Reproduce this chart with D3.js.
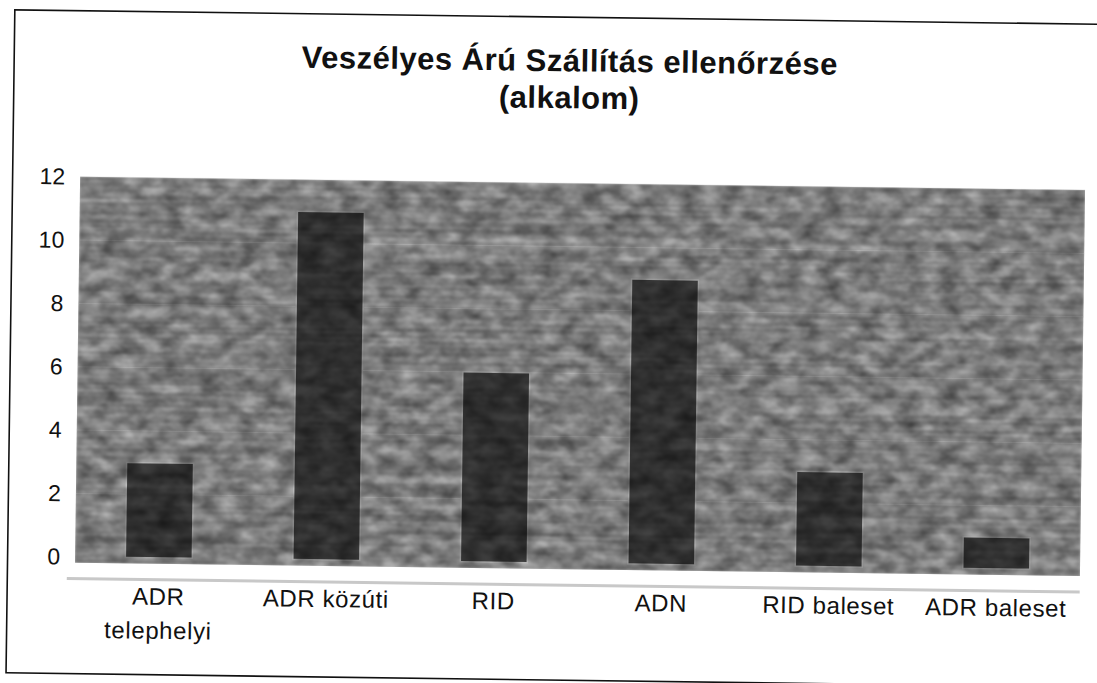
<!DOCTYPE html>
<html>
<head>
<meta charset="utf-8">
<script src="https://cdn.jsdelivr.net/npm/d3@7"></script>
<style>
  body { margin: 0; background: #fff; }
  text { font-family: "Liberation Sans", Arial, sans-serif; fill: #111; }
</style>
</head>
<body>
<div id="chart"></div>
<script>
// data
var categories = ["ADR telephelyi", "ADR közúti", "RID", "ADN", "RID baleset", "ADR baleset"];
var values = [3, 11, 6, 9, 3, 1];
var yTicks = [0, 2, 4, 6, 8, 10, 12];
var titleLines = ["Veszélyes Árú Szállítás ellenőrzése", "(alkalom)"];

var W = 1097, H = 683;
var margin = {top: 183, right: 5, bottom: 120, left: 78};

var svg = d3.select("#chart").append("svg")
    .attr("width", W)
    .attr("height", H);

var defs = svg.append("defs");
// scanner-ish mottled texture
var f = defs.append("filter").attr("id", "grain")
    .attr("x", 0).attr("y", 0).attr("width", 1).attr("height", 1);
f.append("feTurbulence")
    .attr("type", "fractalNoise")
    .attr("baseFrequency", "0.05 0.08")
    .attr("numOctaves", 3)
    .attr("seed", 7)
    .attr("result", "t");
f.append("feColorMatrix").attr("in", "t").attr("type", "matrix")
    .attr("values", "0 0 0 0 0  0 0 0 0 0  0 0 0 0 0  0.8 0 0 0 -0.13")
    .attr("result", "n");
// horizontal scan streaks
f.append("feTurbulence")
    .attr("type", "fractalNoise")
    .attr("baseFrequency", "0.003 0.35")
    .attr("numOctaves", 1)
    .attr("seed", 3)
    .attr("result", "s");
f.append("feColorMatrix").attr("in", "s").attr("type", "matrix")
    .attr("values", "0 0 0 0 0  0 0 0 0 0  0 0 0 0 0  0.5 0 0 0 -0.2")
    .attr("result", "sn");
f.append("feMerge").attr("result", "m")
  .selectAll("feMergeNode").data(["n", "sn"]).enter()
  .append("feMergeNode").attr("in", function(d) { return d; });
f.append("feGaussianBlur").attr("in", "m").attr("stdDeviation", 0.8).attr("result", "b");
f.append("feComposite").attr("in", "b").attr("in2", "SourceGraphic").attr("operator", "in");

// whole scan is slightly tilted
var g = svg.append("g").attr("transform", "rotate(0.76, 550, 340)");

// outer frame
g.append("rect")
    .attr("x", 10.5).attr("y", 17)
    .attr("width", 1110).attr("height", 663)
    .attr("fill", "none").attr("stroke", "#111").attr("stroke-width", 1.6);

// title
g.selectAll(".title").data(titleLines).enter().append("text")
    .attr("class", "title")
    .attr("x", 566)
    .attr("y", function(d, i) { return 71 + i * 37; })
    .attr("text-anchor", "middle")
    .style("font-size", "31px")
    .style("font-weight", "bold")
    .style("letter-spacing", "0.5px")
    .text(function(d) { return d; });

var width = W - margin.left - margin.right - 9,
    height = H - margin.top - margin.bottom; // 0 line at 563

var x = d3.scaleBand()
    .domain(categories)
    .range([margin.left, margin.left + width])
    .paddingInner(0.6)
    .paddingOuter(0.3);

var y = d3.scaleLinear()
    .domain([0, 12])
    .range([margin.top + 380, margin.top]);

// plot area
var plot = g.append("g");
plot.append("rect")
    .attr("x", margin.left).attr("y", y(12))
    .attr("width", width).attr("height", y(0) - y(12) + 6)
    .attr("fill", "#b2b2b2");

// faint gridlines
plot.selectAll(".grid").data(yTicks.slice(1)).enter().append("line")
    .attr("x1", margin.left).attr("x2", margin.left + width)
    .attr("y1", function(d) { return y(d); })
    .attr("y2", function(d) { return y(d); })
    .attr("stroke", "#d6d6d6").attr("stroke-opacity", 0.5);

// bars
plot.selectAll(".bar").data(values).enter().append("rect")
    .attr("class", "bar")
    .attr("x", function(d, i) { return x(categories[i]); })
    .attr("y", function(d) { return y(d); })
    .attr("width", x.bandwidth())
    .attr("height", function(d) { return y(0) - y(d); })
    .attr("fill", "#444")
    .attr("stroke", "#c4c4c4").attr("stroke-width", 1.5);

// texture over the whole plot area
plot.append("rect")
    .attr("x", margin.left).attr("y", y(12))
    .attr("width", width).attr("height", y(0) - y(12) + 6)
    .attr("fill", "#000")
    .attr("filter", "url(#grain)");

// light axis band below plot
g.append("line")
    .attr("x1", margin.left - 8).attr("x2", margin.left + width)
    .attr("y1", y(0) + 22).attr("y2", y(0) + 22)
    .attr("stroke", "#c8c8c8").attr("stroke-width", 3);

// y axis labels
var yAxis = g.append("g")
    .attr("transform", "translate(" + margin.left + ",0)")
    .call(d3.axisLeft(y).tickValues(yTicks).tickSize(0).tickPadding(15));
yAxis.select(".domain").remove();
yAxis.selectAll("text")
    .style("font-size", "23px")
    .style("font-family", "'Liberation Sans', Arial, sans-serif")
    .attr("fill", "#111");

// category labels, wrapped when too wide for the slot
var labels = g.selectAll(".cat").data(categories).enter().append("text")
    .attr("class", "cat")
    .attr("text-anchor", "middle")
    .style("font-size", "24px")
    .style("letter-spacing", "0.6px")
    .attr("x", function(d) { return x(d) + x.bandwidth() / 2; })
    .attr("y", y(0) + 47);

labels.each(function(d) {
  var t = d3.select(this);
  t.text(d);
  if (this.getComputedTextLength() > x.step() * 0.9) {
    var words = d.split(" ");
    t.text(null);
    words.forEach(function(w, i) {
      t.append("tspan")
        .attr("x", x(d) + x.bandwidth() / 2)
        .attr("dy", i ? 34 : 0)
        .text(w);
    });
  }
});
</script>
</body>
</html>
